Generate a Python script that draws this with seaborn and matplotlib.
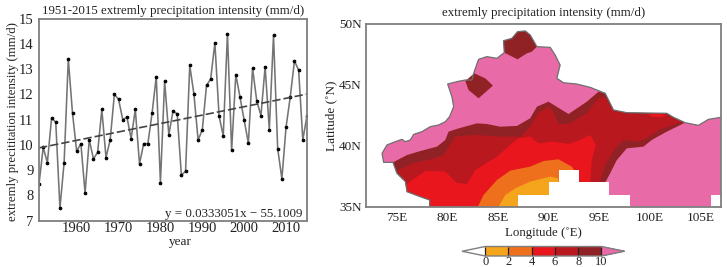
import matplotlib
matplotlib.use("Agg")
import matplotlib.pyplot as plt
from matplotlib.cm import ScalarMappable
from matplotlib.colors import BoundaryNorm, ListedColormap
import pandas as pd
import seaborn as sns

#yearly series
years = list(range(1951, 2016))
intensity = [8.45, 9.9, 9.3, 11.05, 10.9, 7.5, 9.3, 13.4, 11.25, 9.75,
             10.05, 8.1, 10.2, 9.45, 9.7, 11.4, 9.5, 10.2, 12.0, 11.8,
             11.0, 11.1, 10.25, 11.4, 9.25, 10.05, 10.05, 11.25, 12.7, 8.5,
             12.52, 10.4, 11.33, 11.23, 8.8, 8.96, 13.15, 12.0, 10.19, 10.6,
             12.35, 12.61, 14.04, 11.15, 10.35, 14.4, 9.79, 12.78, 11.89, 10.97,
             10.07, 13.03, 11.74, 11.16, 13.09, 10.6, 14.34, 9.85, 8.66, 10.7,
             11.9, 13.32, 12.96, 10.2, 11.15]
trend_years = [1951, 2015]
trend_values = [9.88, 12.01]
year_ticks = [1960, 1970, 1980, 1990, 2000, 2010]
value_ticks = [7, 8, 9, 10, 11, 12, 13, 14, 15]

#map regions as lon/lat outlines
sw_edge = [(78.27, 35), (78.27, 35.55), (77.35, 35.82), (76.04, 36.23)]
border = sw_edge + [(75.88, 37.06), (75.05, 37.74), (74.66, 38.64), (73.74, 38.64),
          (73.58, 39.38), (74.07, 40.07), (74.89, 40.34), (75.55, 40.53), (75.88, 40.34),
          (76.37, 40.48), (76.70, 40.94), (77.52, 41.16), (78.34, 41.57), (79.16, 41.71),
          (79.82, 41.98), (80.24, 42.39), (80.64, 43.21), (80.47, 44.03), (80.05, 45.07),
          (80.97, 45.27), (81.79, 45.40), (82.44, 45.40), (82.67, 46.09), (83.10, 47.10),
          (83.92, 47.32), (84.91, 47.18), (85.63, 47.65), (85.56, 48.63), (86.38, 48.82),
          (86.94, 49.37), (87.70, 49.43), (88.19, 49.10), (88.85, 48.14), (90.16, 48.08),
          (90.65, 47.45), (91.14, 46.63), (90.82, 45.54), (91.47, 45.18), (92.79, 45.07),
          (94.10, 44.80), (95.58, 44.31), (96.40, 42.94), (97.71, 42.72), (101.65, 42.67),
          (102.31, 42.34), (103.46, 41.90), (104.77, 41.68), (105.76, 42.17), (107, 42.34)]
pink_close = [(107, 35)]
brown = sw_edge + [(75.88, 37.06), (75.05, 37.74), (74.66, 38.64), (76.04, 39.24),
         (77.35, 39.57), (79.0, 39.93), (79.82, 40.48), (80.14, 41.16), (81.13, 41.43),
         (82.94, 41.84), (83.92, 41.79), (85.23, 41.57), (86.88, 41.63), (88.19, 42.26),
         (88.85, 43.21), (89.99, 43.62), (91.97, 42.61), (93.77, 43.62), (94.92, 44.44),
         (95.58, 44.31), (96.40, 42.94), (97.71, 42.72), (101.65, 42.67), (102.31, 42.34),
         (103.46, 41.90), (101.65, 41.16), (100.18, 40.48), (99.35, 39.93), (97.71, 39.79),
         (96.73, 38.83), (96.07, 37.74), (95.58, 36.97), (95.58, 35)]
dark_red = sw_edge + [(75.88, 37.06), (75.05, 37.93), (76.53, 38.56), (78.34, 38.89),
            (79.65, 39.24), (80.80, 40.75), (82.61, 40.89), (85.23, 40.75), (87.21, 40.75),
            (88.19, 41.57), (89.01, 42.67), (89.99, 43.21), (90.42, 42.80), (90.98, 41.79),
            (91.97, 41.79), (93.77, 42.67), (94.92, 43.90), (95.58, 44.03), (96.33, 42.88),
            (97.71, 42.67), (101.65, 42.53), (102.31, 42.26), (103.23, 41.98), (101.0, 41.35),
            (99.52, 40.53), (98.70, 40.34), (97.38, 40.48), (96.56, 39.79), (95.58, 38.42),
            (95.02, 36.97), (95.02, 35)]
red = sw_edge + [(75.97, 36.84), (77.85, 37.93), (79.82, 37.88), (80.90, 36.97), (81.95, 36.86),
       (82.77, 38.01), (84.91, 39.11), (86.38, 40.20), (87.04, 40.61), (88.19, 40.75),
       (89.01, 40.20), (90.49, 40.34), (91.97, 40.15), (93.11, 40.48), (94.10, 40.89),
       (94.66, 40.07), (94.26, 38.83), (94.10, 36.97), (94.10, 35)]
orange = [(83.03, 35), (83.59, 35.96), (84.91, 37.19), (86.22, 37.96), (88.19, 38.29),
          (89.50, 38.75), (90.98, 38.89), (92.29, 38.29), (92.95, 37.47), (92.95, 35)]
yellow = [(85.07, 35), (85.73, 35.96), (86.71, 36.51), (88.19, 37.06), (90.16, 37.47),
          (90.95, 37.33), (90.95, 35)]
red_patch = [(99.75, 42.61), (100.67, 42.67), (101.72, 42.53), (101.0, 42.34), (100.18, 42.39)]
north_patch = [(85.63, 47.65), (85.56, 48.63), (86.38, 48.82), (86.94, 49.37), (87.70, 49.43),
               (88.19, 49.10), (88.85, 48.14), (88.35, 47.73), (87.86, 47.59), (86.94, 47.10)]
west_patch = [(81.79, 45.32), (82.67, 45.95), (83.76, 45.54), (84.51, 44.94), (83.10, 43.90),
              (82.11, 44.58)]
missing_south = [(87, 35), (87, 36), (90, 36), (90, 37), (91, 37), (91, 38), (93, 38), (93, 37),
                 (96, 37), (96, 36), (98, 36), (98, 35)]
missing_east = [(106, 35), (106, 36), (107, 36), (107, 35)]

lon_ticks = [75, 80, 85, 90, 95, 100, 105]
lat_ticks = [35, 40, 45, 50]
levels = [0, 2, 4, 6, 8, 10]

c_yellow, c_orange, c_red = "#F4A51C", "#EE701C", "#E9171D"
c_darkred, c_brown, c_pink = "#BA181F", "#902225", "#E86AA6"
c_spine = "#7f7f7f"

sns.set_theme(style="ticks")
plt.rcParams['font.family'] = ['Liberation Serif', 'DejaVu Serif']
plt.rcParams['axes.edgecolor'] = c_spine
plt.rcParams['text.color'] = '#222222'
plt.rcParams['axes.labelcolor'] = '#222222'
plt.rcParams['xtick.color'] = '#222222'
plt.rcParams['ytick.color'] = '#222222'

fig = plt.figure(figsize=(7.27, 2.67), dpi=100)

#time series
ax1 = fig.add_axes([39/727, 46.3/267, 268/727, 202.2/267])
df = pd.DataFrame({"year": years, "intensity": intensity})
sns.lineplot(data=df, x="year", y="intensity", ax=ax1, color="#747474", linewidth=1.15,
             marker="o", markersize=1.9, markerfacecolor="black", markeredgecolor="black",
             errorbar=None, clip_on=True)
trend = pd.DataFrame({"year": trend_years, "value": trend_values})
sns.lineplot(data=trend, x="year", y="value", ax=ax1, color="#444444", linewidth=1.2,
             linestyle=(0, (5, 1.8)), errorbar=None)
ax1.set_xlim(1951, 2015)
ax1.set_ylim(7, 15)
ax1.set_xticks(year_ticks)
ax1.set_yticks(value_ticks)
ax1.tick_params(length=0, labelsize=10.5, pad=4)
ax1.tick_params(axis="x", pad=1)
ax1.set_xlabel("year", fontsize=9.5, labelpad=1, x=0.526)
ax1.set_ylabel("extremly precititation intensity (mm/d)", fontsize=9.2, labelpad=0, y=0.49)
ax1.set_title("1951-2015 extremly precipitation intensity (mm/d)", fontsize=9.3, pad=3)
ax1.text(2013.9, 7.03, "y = 0.0333051x \u2212 55.1009", fontsize=9.4, ha="right", va="bottom")
for s in ax1.spines.values():
    s.set_linewidth(1.3)
    s.set_visible(True)

#map
ax2 = fig.add_axes([366/727, 60.3/267, 355/727, 182.7/267])
layers = [(border + pink_close, c_pink), (brown, c_brown), (dark_red, c_darkred), (red, c_red),
          (orange, c_orange), (yellow, c_yellow), (red_patch, c_red), (north_patch, c_brown),
          (west_patch, c_brown), (missing_south, "white"), (missing_east, "white")]
for outline, colour in layers:
    ax2.fill([p[0] for p in outline], [p[1] for p in outline], color=colour, linewidth=0)
ax2.plot([p[0] for p in border], [p[1] for p in border], color="#6f6f6f", linewidth=0.9)
ax2.set_xlim(72, 107)
ax2.set_ylim(35, 50)
ax2.set_xticks(lon_ticks)
ax2.set_xticklabels([f"{v}E" for v in lon_ticks])
ax2.set_yticks(lat_ticks)
ax2.set_yticklabels([f"{v}N" for v in lat_ticks])
ax2.tick_params(length=0, labelsize=9.5, pad=4)
ax2.tick_params(axis="y", pad=3)
ax2.set_xlabel("Longitude (\u02daE)", fontsize=9.3, labelpad=2)
ax2.set_ylabel("Latitude (\u02daN)", fontsize=9.5, labelpad=1)
ax2.set_title("extremly precipitation intensity (mm/d)", fontsize=9.3, pad=6)
for s in ax2.spines.values():
    s.set_linewidth(1.3)
    s.set_visible(True)

#colourbar
cmap = ListedColormap([c_yellow, c_orange, c_red, c_darkred, c_brown])
cmap.set_under("white")
cmap.set_over(c_pink)
norm = BoundaryNorm(levels, cmap.N)
cax = fig.add_axes([462/727, 11/267, 162.7/727, 9.5/267])
cb = fig.colorbar(ScalarMappable(norm=norm, cmap=cmap), cax=cax, orientation="horizontal",
                  extend="both", extendfrac=0.2, drawedges=True, ticks=levels, spacing="uniform")
cb.ax.tick_params(length=0, labelsize=9, pad=0)
cb.outline.set_edgecolor(c_spine)
cb.outline.set_linewidth(1)
cb.dividers.set_color("#222222")
cb.dividers.set_linewidth(0.9)

fig.savefig("out.png", dpi=100)
